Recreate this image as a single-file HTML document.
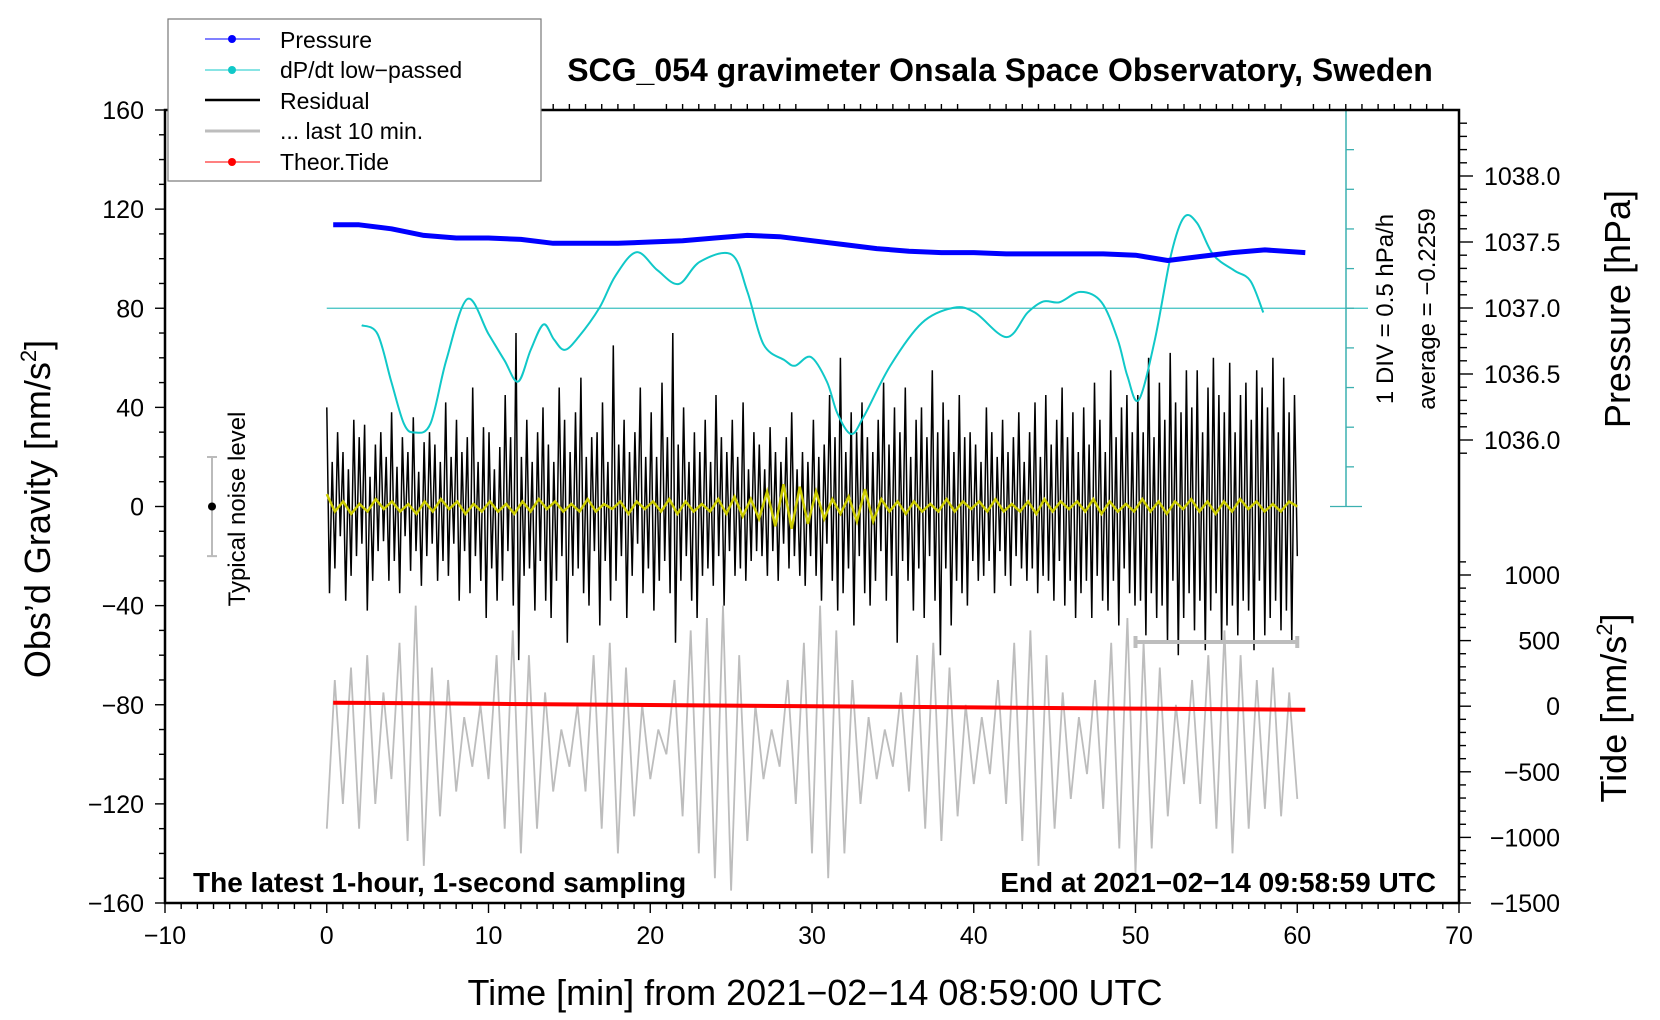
<!DOCTYPE html>
<html><head><meta charset="utf-8"><style>
html,body{margin:0;padding:0;background:#fff}
svg{display:block;font-family:"Liberation Sans",Arial,sans-serif}
</style></head><body>
<svg id="chart" width="1660" height="1020" viewBox="0 0 1660 1020">
</svg>
<script>
// ---- data ----
const timeTicks=[-10,0,10,20,30,40,50,60,70];
const gravTicks=[160,120,80,40,0,-40,-80,-120,-160];
const pressTicks=[1036.0,1036.5,1037.0,1037.5,1038.0];
const tideTicks=[1000,500,0,-500,-1000,-1500];
const residual=[40,-35,18,-25,30,-12,22,-38,15,-28,35,-20,28,-15,33,-42,12,-30,25,-18,
30,-14,20,-30,38,-22,16,-35,28,-12,22,-26,36,-18,14,-32,26,-20,30,-15,
25,-30,18,-22,42,-28,20,-15,35,-38,22,-18,28,-35,48,-20,18,-30,32,-45,
30,-25,15,-38,24,-30,45,-18,28,-40,70,-62,20,-28,35,-25,18,-42,30,-22,
40,-38,25,-45,18,-30,48,-20,35,-55,22,-28,38,-25,52,-35,20,-40,28,-18,
30,-48,42,-22,18,-38,65,-30,25,-20,35,-45,22,-28,30,-15,48,-35,20,-25,
38,-42,20,-30,50,-22,28,-35,70,-55,25,-30,40,-20,18,-38,30,-45,22,-28,
35,-25,18,-32,45,-20,28,-40,22,-18,35,-28,20,-25,42,-30,15,-22,30,-18,
25,-20,15,-28,32,-18,22,-30,18,-15,28,-25,38,-20,15,-28,22,-32,18,-20,
35,-28,20,-38,25,-15,45,-30,28,-42,60,-35,22,-25,38,-48,30,-20,42,-35,
28,-40,22,-30,35,-18,50,-38,25,-28,40,-55,30,-22,48,-30,20,-42,35,-25,
40,-45,28,-20,55,-38,30,-60,42,-25,35,-48,22,-30,45,-35,28,-40,30,-22,
25,-30,18,-28,40,-22,30,-35,20,-18,35,-28,22,-32,28,-20,38,-25,18,-30,
30,-25,42,-35,20,-28,45,-30,25,-38,35,-22,48,-40,28,-30,38,-45,22,-35,
40,-30,25,-45,50,-28,35,-38,22,-42,55,-30,28,-48,40,-25,45,-35,30,-40,
45,-38,30,-52,60,-35,28,-45,50,-40,35,-55,62,-30,42,-60,38,-45,55,-35,
40,-50,55,-38,30,-58,48,-42,60,-35,45,-55,38,-48,58,-40,30,-52,45,-38,
50,-42,35,-58,55,-30,48,-52,40,-45,60,-38,30,-50,52,-42,38,-55,45,-20];
const lastTen=[-130,-70,-120,-65,-130,-60,-120,-75,-110,-55,-135,-40,-145,-65,-125,-70,-115,-85,-105,-80,-110,
-60,-130,-50,-140,-60,-130,-75,-115,-90,-105,-80,-115,-60,-130,-55,-140,-65,-125,-80,-110,
-90,-100,-70,-125,-50,-140,-45,-150,-40,-155,-60,-135,-80,-110,-90,-105,-70,-120,-55,-140,
-40,-150,-50,-140,-70,-120,-85,-110,-90,-105,-75,-115,-60,-130,-55,-135,-65,-125,-80,-112,
-85,-108,-70,-120,-55,-135,-50,-145,-60,-130,-75,-118,-85,-108,-70,-122,-55,-138,-45,-148,
-55,-138,-65,-125,-80,-112,-70,-120,-60,-130,-50,-140,-60,-130,-70,-122,-65,-125,-75,-118];
const yellow=[5,-2,2,-3,1,-2,3,-1,2,-2,1,-3,2,-2,3,-1,2,-3,1,-2,
2,-2,1,-3,2,-2,3,-1,2,-2,1,-2,3,-2,1,-1,2,-3,2,-1,
2,-2,3,-3,2,-2,1,-2,3,-3,4,-4,3,-5,6,-8,9,-9,8,-7,
6,-5,3,-3,4,-6,7,-6,3,-2,2,-3,2,-2,1,-2,3,-2,2,-1,
2,-2,3,-2,1,-2,2,-3,3,-2,2,-1,2,-2,3,-3,2,-2,1,-2,
3,-2,2,-3,2,-1,3,-2,2,-3,2,-2,3,-1,2,-2,1,-2,2,0];
const pressTimes=[0.4,2,4,6,8,10,12,14,16,18,20,22,24,26,28,30,32,34,36,38,40,42,44,46,48,50,52,54,56,58,60.5];
const pressure=[1037.63,1037.63,1037.60,1037.55,1037.53,1037.53,1037.52,1037.49,1037.49,1037.49,1037.50,1037.51,1037.53,1037.55,1037.54,1037.51,1037.48,1037.45,1037.43,1037.42,1037.42,1037.41,1037.41,1037.41,1037.41,1037.40,1037.36,1037.39,1037.42,1037.44,1037.42];
const dpTimes=[2.16,3.14,3.99,4.77,5.42,6.41,7.39,8.69,10.0,10.98,11.83,12.61,13.4,14.05,14.71,15.56,16.86,17.84,19.15,20.46,21.76,23.07,25.03,26.01,27.0,28.3,28.95,29.93,30.92,31.57,32.42,33.2,34.84,36.8,38.76,40.07,42.03,43.33,44.31,45.3,46.6,47.9,48.9,49.5,50.2,51.2,52.2,53.0,53.8,54.8,56.1,57.1,57.9];
const dpdt=[-0.44,-0.55,-1.15,-1.68,-1.79,-1.68,-0.88,-0.11,-0.55,-0.88,-1.15,-0.75,-0.43,-0.62,-0.75,-0.59,-0.22,0.18,0.48,0.25,0.08,0.36,0.45,-0.02,-0.68,-0.88,-0.95,-0.84,-1.15,-1.55,-1.81,-1.59,-0.95,-0.41,-0.22,-0.28,-0.59,-0.28,-0.14,-0.15,-0.02,-0.15,-0.62,-1.08,-1.38,-0.62,0.45,0.92,0.85,0.45,0.25,0.12,-0.28];
const dpAverage=-0.2259;
const tideTimes=[0.4,10,20,30,40,50,60.5];
const tide=[27,18,9,0,-9,-18,-27];

// ---- scales ----
const L=165,R=1459,T=110,B=903;
const X=t=>L+(t+10)/80*(R-L);
const Y=g=>B-(g+160)/320*(B-T);
const YP=p=>176-(p-1038)*132;
const YTide=v=>575+(1000-v)/2500*(B-575);
const YD=v=>Y(80)-(v-dpAverage)/0.5*39.7;

const NS="http://www.w3.org/2000/svg";
const svg=document.getElementById('chart');
function el(tag,attrs,parent,text){const e=document.createElementNS(NS,tag);for(const k in attrs)e.setAttribute(k,attrs[k]);if(text!==undefined)e.textContent=text;(parent||svg).appendChild(e);return e;}
function pts(xs,ys){return xs.map((x,i)=>x.toFixed(1)+','+ys[i].toFixed(1)).join(' ');}
function smooth(xs,ys){let d='M'+xs[0]+','+ys[0];for(let i=0;i<xs.length-1;i++){const x0=xs[Math.max(0,i-1)],y0=ys[Math.max(0,i-1)],x1=xs[i],y1=ys[i],x2=xs[i+1],y2=ys[i+1],x3=xs[Math.min(xs.length-1,i+2)],y3=ys[Math.min(xs.length-1,i+2)];d+=' C'+(x1+(x2-x0)/6)+','+(y1+(y2-y0)/6)+' '+(x2-(x3-x1)/6)+','+(y2-(y3-y1)/6)+' '+x2+','+y2;}return d;}

let e;
e=el('polyline',{points:pts(lastTen.map((v,i)=>X(i/(lastTen.length-1)*60)),lastTen.map(Y)),fill:'none',stroke:'#bdbdbd','stroke-width':1.8});


e=el('polyline',{points:pts(residual.map((v,i)=>X(i/(residual.length-1)*60)),residual.map(Y)),fill:'none',stroke:'#000','stroke-width':1.5});


e=el('polyline',{points:pts(yellow.map((v,i)=>X(i/(yellow.length-1)*60)),yellow.map(Y)),fill:'none',stroke:'#cccc00','stroke-width':2.5});


e=el('line',{x1:X(0),x2:1368,y1:Y(80),y2:Y(80),stroke:'#3cc0c0','stroke-width':1.3});


e=el('line',{x1:1346,x2:1346,y1:T,y2:Y(0),stroke:'#3cb0b0','stroke-width':1.5});


for(let k=0;k<=10;k++){const yy=T+k*(Y(0)-T)/10;const end=(k===0||k===10);el('line',{x1:1346-(end?16:0),x2:1346+(end?16:8),y1:yy,y2:yy,stroke:'#3cb0b0','stroke-width':1.3});}
e=el('path',{d:smooth(dpTimes.map(X),dpdt.map(YD)),fill:'none',stroke:'#10c8c8','stroke-width':2});


e=el('polyline',{points:pts(pressTimes.map(X),pressure.map(YP)),fill:'none',stroke:'#0000ff','stroke-width':5,'stroke-linejoin':'round'});


e=el('polyline',{points:pts(tideTimes.map(X),tide.map(YTide)),fill:'none',stroke:'#ff0000','stroke-width':4});


e=el('path',{d:`M${X(50)},636V648M${X(50)},642H${X(60)}M${X(60)},636V648`,stroke:'#bdbdbd','stroke-width':4,fill:'none'});


e=el('path',{d:`M207,${Y(20)}H217M212,${Y(20)}V${Y(-20)}M207,${Y(-20)}H217`,stroke:'#bbb','stroke-width':2,fill:'none'});


el('circle',{cx:212,cy:Y(0),r:4,fill:'#000'});

e=el('rect',{x:L,y:T,width:R-L,height:B-T,fill:'none',stroke:'#000','stroke-width':2.5});


const fs=25;
for(let t=-10;t<=70;t++){const maj=t%10===0;el('line',{x1:X(t),x2:X(t),y1:B,y2:B+(maj?10:6),stroke:'#000','stroke-width':1.4});if(!maj)el('line',{x1:X(t),x2:X(t),y1:T,y2:T-6,stroke:'#000','stroke-width':1.4});}
timeTicks.forEach(t=>{const s=el('text',{x:X(t),y:B+41,'font-size':fs,'text-anchor':'middle'},svg,String(t).replace('-','\u2212'));});
for(let g=-160;g<=160;g+=10){const maj=g%40===0;el('line',{x1:L,x2:L-(maj?10:6),y1:Y(g),y2:Y(g),stroke:'#000','stroke-width':1.4});}
gravTicks.forEach(g=>{const s=el('text',{x:L-21,y:Y(g)+9,'font-size':fs,'text-anchor':'end'},svg,String(g).replace('-','\u2212'));});
for(let p=1035.9;p<=1038.45;p+=0.1){const maj=Math.abs(p*2-Math.round(p*2))<0.01;if(YP(p)<T+3||YP(p)>Y(0))continue;el('line',{x1:R,x2:R+(maj?14:8),y1:YP(p),y2:YP(p),stroke:'#000','stroke-width':1.4});}
pressTicks.forEach(p=>{const s=el('text',{x:1484,y:YP(p)+9,'font-size':fs},svg,p.toFixed(1));});
for(let v=-1500;v<=1100;v+=100){if(YTide(v)<Y(0)+20)continue;const maj=v%500===0;el('line',{x1:R,x2:R+(maj?12:7),y1:YTide(v),y2:YTide(v),stroke:'#000','stroke-width':1.4});}
tideTicks.forEach(v=>{const s=el('text',{x:1560,y:YTide(v)+9,'font-size':fs,'text-anchor':'end'},svg,String(v).replace('-','\u2212'));});
</script>
<svg width="1660" height="1020" style="position:absolute;left:0;top:0" font-family="Liberation Sans, Arial, sans-serif">
<text x="1000" y="81" font-size="32" font-weight="bold" text-anchor="middle">SCG_054 gravimeter Onsala Space Observatory, Sweden</text>
<text x="815" y="1005" font-size="36" text-anchor="middle">Time [min] from 2021−02−14 08:59:00 UTC</text>
<text transform="translate(50,509) rotate(-90)" font-size="36" text-anchor="middle">Obs’d Gravity [nm/s<tspan font-size="22" dy="-14">2</tspan><tspan dy="14">]</tspan></text>
<text transform="translate(1630,309) rotate(-90)" font-size="36" text-anchor="middle">Pressure [hPa]</text>
<text transform="translate(1626,708) rotate(-90)" font-size="36" text-anchor="middle">Tide [nm/s<tspan font-size="22" dy="-14">2</tspan><tspan dy="14">]</tspan></text>
<text transform="translate(245,509) rotate(-90)" font-size="24" text-anchor="middle">Typical noise level</text>
<text transform="translate(1393,309) rotate(-90)" font-size="24" text-anchor="middle">1 DIV = 0.5 hPa/h</text>
<text transform="translate(1435,309) rotate(-90)" font-size="24" text-anchor="middle">average = −0.2259</text>
<text x="193" y="892" font-size="28" font-weight="bold">The latest 1-hour, 1-second sampling</text>
<text x="1436" y="892" font-size="28" font-weight="bold" text-anchor="end">End at 2021−02−14 09:58:59 UTC</text>
<g>
<rect x="168" y="19" width="373" height="162" fill="#fff" stroke="#777" stroke-width="1.2"/>
<g><line x1="205" x2="260" y1="39" y2="39" stroke="#0000ff"/><circle cx="232" cy="39" r="4" fill="#0000ff"/><text x="280" y="48" font-size="23">Pressure</text></g>
<g><line x1="205" x2="260" y1="70" y2="70" stroke="#10c8c8"/><circle cx="232" cy="70" r="4" fill="#10c8c8"/><text x="280" y="78" font-size="23">dP/dt low−passed</text></g>
<g><line x1="205" x2="260" y1="100" y2="100" stroke="#000" stroke-width="2.5"/><text x="280" y="109" font-size="23">Residual</text></g>
<g><line x1="205" x2="260" y1="131" y2="131" stroke="#bdbdbd" stroke-width="3"/><text x="280" y="139" font-size="23">... last 10 min.</text></g>
<g><line x1="205" x2="260" y1="162" y2="162" stroke="#ff0000"/><circle cx="232" cy="162" r="4" fill="#ff0000"/><text x="280" y="170" font-size="23">Theor.Tide</text></g>
</g>
</svg>
</body></html>
